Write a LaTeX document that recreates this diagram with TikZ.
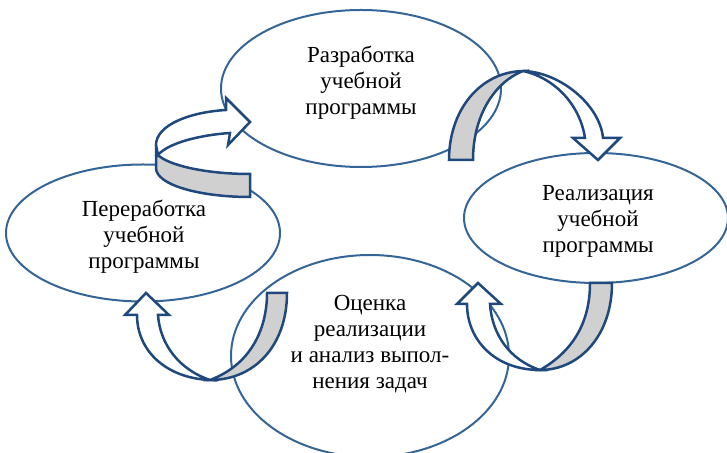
\documentclass[tikz,border=0pt]{standalone}
\usepackage{fontspec}
\setmainfont{Liberation Serif}
\usetikzlibrary{shapes.geometric}
\definecolor{ringblue}{RGB}{52,101,150}
\definecolor{arrowblue}{RGB}{31,73,125}
\definecolor{bandgray}{RGB}{208,208,208}

\begin{document}
\begin{tikzpicture}[x=0.5pt,y=-0.5pt,
		stage/.style={ellipse, draw=ringblue, line width=1pt, inner sep=0pt},
		caption/.style={align=center, font=\fontsize{11.5}{13}\selectfont},
		band/.style={fill=bandgray, draw=arrowblue, line width=1.25pt},
		sweep/.style={fill=white, draw=arrowblue, line width=1.25pt}]
	\useasboundingbox (0,0) rectangle (727,453);
	% Stages of the cycle
	\node[stage, minimum width=140pt, minimum height=78.5pt] (develop) at (361,88.5) {};
	\node[stage, minimum width=137pt, minimum height=68.5pt] (rework) at (143,233) {};
	\node[stage, minimum width=132pt, minimum height=65pt] (realize) at (596,218) {};
	\node[stage, minimum width=139pt, minimum height=101pt] (assess) at (370,356) {};
	\node[caption, yshift=3pt] (developtext) at (develop) {Разработка\\учебной\\программы};
	\node[caption, xshift=0.5pt, yshift=-1.75pt] (reworktext) at (rework) {Переработка\\учебной\\программы};
	\node[caption, xshift=1pt, yshift=-1.75pt] (realizetext) at (realize) {Реализация\\учебной\\программы};
	\node[caption, yshift=6pt] (assesstext) at (assess) {Оценка\\реализации\\и анализ выпол-\\нения задач};
	% Rework -> develop
	\filldraw[band] (156,145) -- (156,168) .. controls (156,185) and (200,197) .. (250,197)
		-- (250,174) .. controls (205,174) and (168,165) .. (158,155) -- cycle;
	\filldraw[sweep] (156,145) .. controls (156,125) and (190,112) .. (226,110)
		-- (226,98) -- (250,122) -- (228,145) -- (230,133)
		.. controls (200,135) and (168,143) .. (158,155) -- cycle;
	% Develop -> realize
	\filldraw[band] (449,160) .. controls (449,110) and (480,72) .. (523,71)
		.. controls (495,82) and (473,115) .. (473,160) -- cycle;
	\filldraw[sweep] (523,71) .. controls (560,72) and (600,105) .. (603,138)
		-- (620,138) -- (598,160) -- (573,138) -- (585,138)
		.. controls (580,105) and (555,78) .. (523,71) -- cycle;
	% Realize -> assess
	\filldraw[band] (590,283) -- (612,283) .. controls (612,335) and (580,370) .. (540,370)
		.. controls (575,350) and (590,320) .. (590,283) -- cycle;
	\filldraw[sweep] (540,370) .. controls (495,370) and (467,340) .. (467,304)
		-- (457,304) -- (478,283) -- (501,304) -- (490,304)
		.. controls (492,335) and (510,360) .. (540,370) -- cycle;
	% Assess -> rework
	\filldraw[band] (267,293) -- (287,293) .. controls (287,345) and (255,380) .. (210,380)
		.. controls (250,365) and (267,330) .. (267,293) -- cycle;
	\filldraw[sweep] (210,380) .. controls (165,378) and (137,350) .. (137,315)
		-- (125,315) -- (146,293) -- (169,315) -- (158,315)
		.. controls (160,345) and (180,370) .. (210,380) -- cycle;
\end{tikzpicture}
\end{document}
